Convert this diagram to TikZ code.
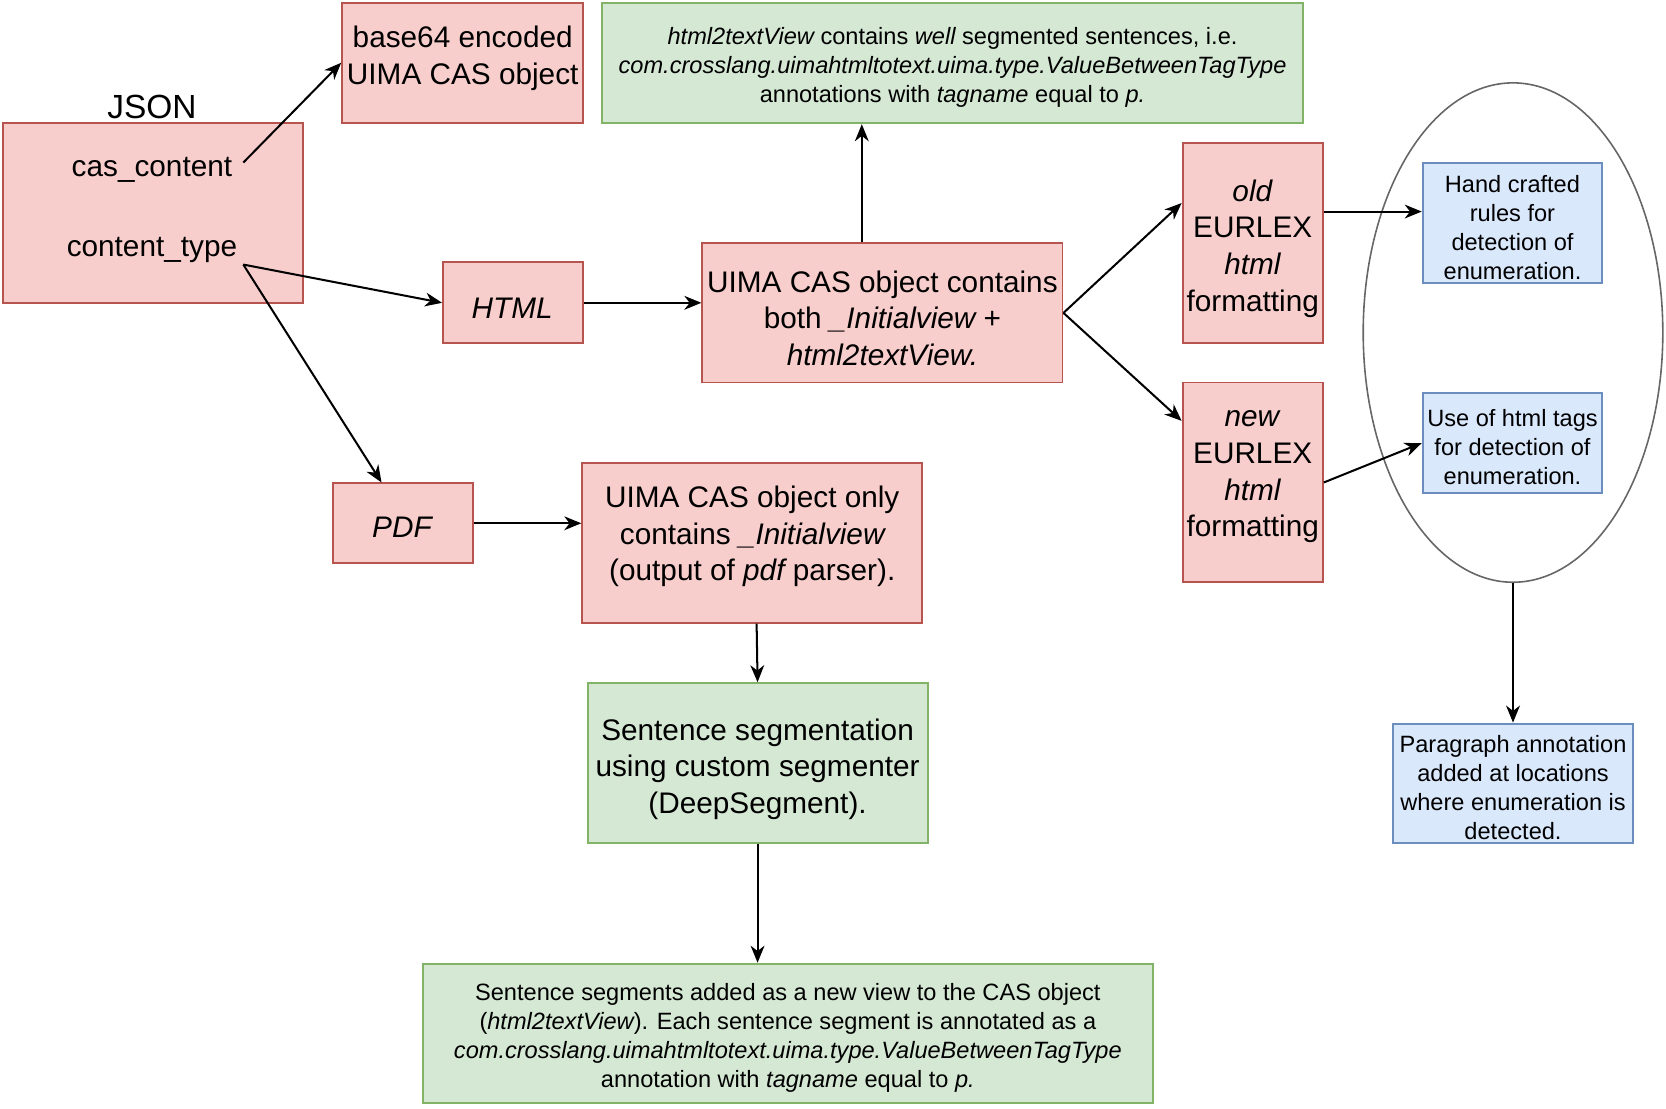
\documentclass[tikz,border=0pt]{standalone}
\usepackage{fontspec}
\setmainfont{Liberation Sans}
\usetikzlibrary{arrows.meta,shapes.geometric,calc}
\definecolor{pinkf}{HTML}{F8CECC}
\definecolor{pinkd}{HTML}{B85450}
\definecolor{greenf}{HTML}{D5E8D4}
\definecolor{greend}{HTML}{82B366}
\definecolor{bluef}{HTML}{DAE8FC}
\definecolor{blued}{HTML}{6C8EBF}
\definecolor{ellc}{HTML}{666666}
\begin{document}
\begin{tikzpicture}[x=1pt,y=-1pt,
  boxbase/.style={rectangle,line width=1.8pt,inner sep=0pt},
  pinkbox/.style={boxbase,draw=pinkd,fill=pinkf},
  greenbox/.style={boxbase,draw=greend,fill=greenf},
  bluebox/.style={boxbase,draw=blued,fill=bluef},
  bigtxt/.style={font=\fontsize{28}{34.5}\selectfont,align=center,inner sep=0pt,yshift=-3pt},
  smalltxt/.style={font=\fontsize{22.2}{27.3}\selectfont,align=center,inner sep=0pt,yshift=-2.5pt},
  arr/.style={-{Stealth[length=16pt,width=13pt,inset=5pt]},line width=1.9pt,black}]
\useasboundingbox (0,0) rectangle (1568,1043);

% boxes
\node[pinkbox,minimum width=282pt,minimum height=169pt] (json) at (144,200.5) {};
\node[pinkbox,minimum width=227pt,minimum height=113pt] (b64) at (435.5,59.5) {};
\node[greenbox,minimum width=659pt,minimum height=113pt] (gtop) at (896.5,59.5) {};
\node[pinkbox,minimum width=132pt,minimum height=76pt] (html) at (483,285) {};
\node[pinkbox,minimum width=339pt,minimum height=131pt] (both) at (830.5,294.5) {};
\node[pinkbox,minimum width=132pt,minimum height=188pt] (old) at (1179,229) {};
\node[pinkbox,minimum width=132pt,minimum height=188pt] (new) at (1179,454) {};
\node[ellipse,draw=ellc,line width=1.5pt,minimum width=282pt,minimum height=470pt,inner sep=0pt] (ell) at (1424,313) {};
\node[bluebox,minimum width=169pt,minimum height=113pt] (blue1) at (1423.5,209.5) {};
\node[bluebox,minimum width=169pt,minimum height=94pt] (blue2) at (1423.5,417) {};
\node[bluebox,minimum width=226pt,minimum height=112pt] (blue3) at (1424,737) {};
\node[pinkbox,minimum width=132pt,minimum height=75pt] (pdf) at (379,492.5) {};
\node[pinkbox,minimum width=320pt,minimum height=150pt] (only) at (708,511) {};
\node[greenbox,minimum width=320pt,minimum height=150pt] (seg) at (713,718) {};
\node[greenbox,minimum width=687pt,minimum height=131pt] (gbot) at (741.5,972.5) {};

% texts
\node[font=\fontsize{31.5}{36}\selectfont,inner sep=0pt] (jsonlbl) at (143,101) {JSON};
\node[bigtxt] (cast) at (143,157) {cas\_content};
\node[bigtxt] (ctt) at (143,232) {content\_type};
\node[bigtxt] (b64t) at (435.5,52) {base64 encoded\\UIMA CAS object};
\node[smalltxt] (gtopt) at (896.5,60.5) {{\itshape html2textView} contains {\itshape well} segmented sentences, i.e.\\{\itshape com.crosslang.uimahtmltotext.uima.type.ValueBetweenTagType}\\annotations with {\itshape tagname} equal to {\itshape p.}};
\node[bigtxt] (htmlt) at (482,287) {\textit{HTML}};
\node[bigtxt] (botht) at (830.5,296.5) {UIMA CAS object contains\\both {\itshape \_Initialview} +\\{\itshape html2textView.}};
\node[bigtxt] (oldt) at (1179,231) {\textit{old}\\EURLEX\\\textit{html}\\formatting};
\node[bigtxt] (newt) at (1179,446) {\textit{new}\\EURLEX\\\textit{html}\\formatting};
\node[smalltxt] (blue1t) at (1423.5,211.5) {Hand crafted\\rules for\\detection of\\enumeration.};
\node[smalltxt] (blue2t) at (1423.5,418) {Use of html tags\\for detection of\\enumeration.};
\node[smalltxt] (blue3t) at (1424,738.5) {Paragraph annotation\\added at locations\\where enumeration is\\detected.};
\node[bigtxt] (pdft) at (379,493) {\textit{PDF}};
\node[bigtxt] (onlyt) at (708,502) {UIMA CAS object only\\contains {\itshape \_Initialview}\\(output of {\itshape pdf} parser).};
\node[bigtxt] (segt) at (713,721) {Sentence segmentation\\using custom segmenter\\(DeepSegment).};
\node[smalltxt] (gbott) at (741.5,974) {Sentence segments added as a new view to the CAS object\\({\itshape html2textView}). Each sentence segment is annotated as a\\{\itshape com.crosslang.uimahtmltotext.uima.type.ValueBetweenTagType}\\annotation with {\itshape tagname} equal to {\itshape p.}};

% connectors
\coordinate (cc) at (229,153);
\coordinate (ct) at (229,249);
\draw[arr] (cc) -- ($(b64.north west)+(0,57)$);
\draw[arr] (ct) -- (html.west);
\draw[arr] (ct) -- ($(pdf.north west)+(47,0)$);
\draw[arr] (html.east) -- (html.east -| both.west);
\coordinate (p5) at ($(both.north west)+(151,0)$);
\draw[arr] (p5) -- (p5 |- gtop.south);
\draw[arr] (both.east) -- ($(old.north west)+(0,57)$);
\draw[arr] (both.east) -- ($(new.north west)+(0,37)$);
\draw[arr] ($(old.north east)+(0,65)$) -- ($(blue1.north west)+(0,47)$);
\draw[arr] ($(new.north east)+(0,95)$) -- (blue2.west);
\draw[arr] (pdf.east) -- (pdf.east -| only.west);
\draw[arr] ($(only.south west)+(165,0)$) -- (seg.north);
\draw[arr] (seg.south) -- (seg.south |- gbot.north);
\draw[arr] (ell.south) -- (blue3.north);
\end{tikzpicture}
\end{document}
